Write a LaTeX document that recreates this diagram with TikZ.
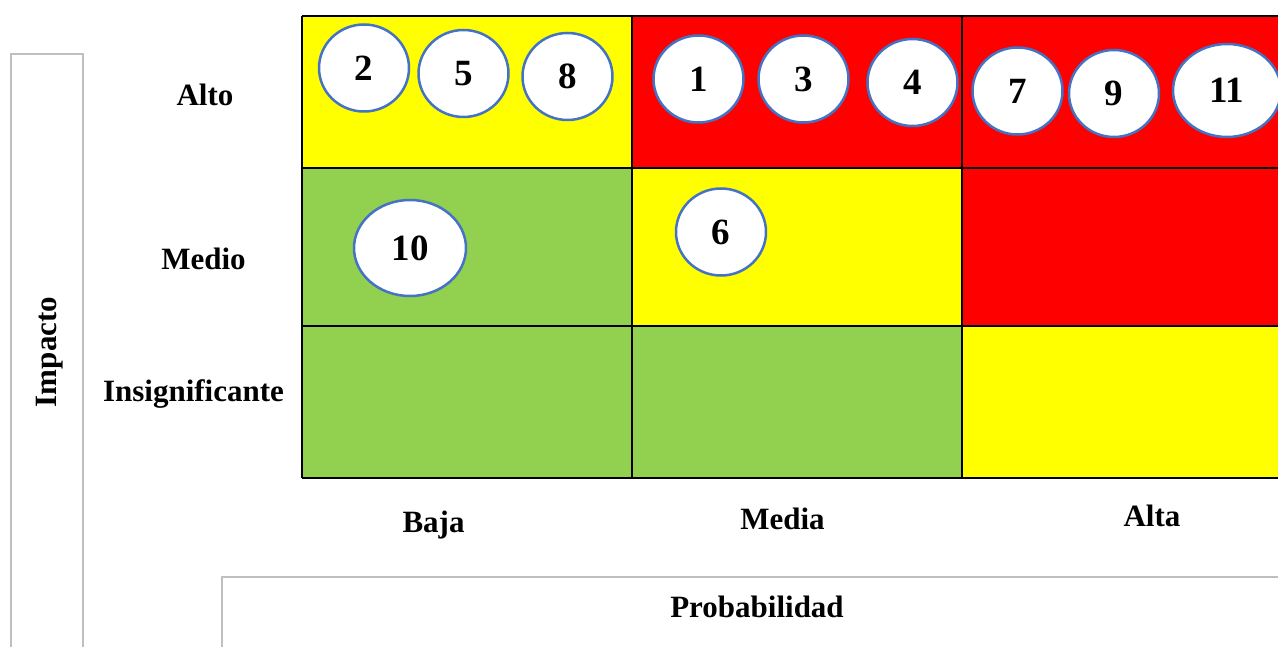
\documentclass[tikz,border=0pt]{standalone}
\usepackage{fontspec}
\setmainfont{Liberation Serif}
\usetikzlibrary{shapes.geometric}

\definecolor{riskred}{HTML}{FF0000}
\definecolor{riskyellow}{HTML}{FFFF00}
\definecolor{riskgreen}{HTML}{92D050}
\definecolor{bubbleblue}{HTML}{4472C4}
\definecolor{framegray}{HTML}{BFBFBF}

\begin{document}
\begin{tikzpicture}[x=1pt,y=-1pt,
    lbl/.style={font=\fontsize{31}{31}\selectfont\bfseries, inner sep=0pt},
    bubble/.style={ellipse, draw=bubbleblue, line width=2.5pt, fill=white,
        inner sep=0pt, minimum width=90pt, minimum height=87pt,
        font=\fontsize{37}{37}\selectfont\bfseries},
    gridline/.style={line width=2.5pt}]

    % column and row borders of the matrix
    \def\xa{302}
    \def\xb{632}
    \def\xc{962}
    \def\xd{1295}
    \def\ya{16}
    \def\yb{168}
    \def\yc{326}
    \def\yd{478}

    \useasboundingbox (0,0) rectangle (1278,647);

% --------------------
% Cells
% --------------------
\fill[riskyellow] (\xa,\ya) rectangle (\xb,\yb);
\fill[riskred]    (\xb,\ya) rectangle (\xc,\yb);
\fill[riskred]    (\xc,\ya) rectangle (\xd,\yb);

\fill[riskgreen]  (\xa,\yb) rectangle (\xb,\yc);
\fill[riskyellow] (\xb,\yb) rectangle (\xc,\yc);
\fill[riskred]    (\xc,\yb) rectangle (\xd,\yc);

\fill[riskgreen]  (\xa,\yc) rectangle (\xb,\yd);
\fill[riskgreen]  (\xb,\yc) rectangle (\xc,\yd);
\fill[riskyellow] (\xc,\yc) rectangle (\xd,\yd);

% --------------------
% Grid lines
% --------------------
\foreach \y in {\ya,\yb,\yc,\yd} {
    \draw[gridline] (\xa,\y) -- (\xd,\y);
}
\foreach \x in {\xa,\xb,\xc} {
    \draw[gridline] (\x,\ya) -- (\x,\yd);
}

% --------------------
% Risk bubbles
% --------------------
\foreach \n/\px/\py in {2/364/68, 5/463.5/73.5, 8/567.5/76.5,
                        1/698.5/79, 3/803.5/79, 4/912.5/82.5,
                        7/1017.5/91, 9/1114/93.5, 6/721/232} {
    \node[bubble] (r\n) at (\px,\py) {\n};
}
\node[bubble, minimum width=108pt, minimum height=93pt] (r11) at (1227,90.5) {11};
\node[bubble, minimum width=112pt, minimum height=96pt] (r10) at (410,248) {10};

% --------------------
% Impact levels
% --------------------
\node[lbl, anchor=base] (alto)  at (205,106)   {Alto};
\node[lbl, anchor=base] (medio) at (203.5,270) {Medio};
\node[lbl, anchor=base] (insig) at (193.5,401) {Insignificante};

% --------------------
% Probability levels
% --------------------
\node[lbl, anchor=base] (baja)  at (433.5,532) {Baja};
\node[lbl, anchor=base] (media) at (782.5,529) {Media};
\node[lbl, anchor=base] (alta)  at (1152,526)  {Alta};

% --------------------
% Axis titles in open frames
% --------------------
\draw[framegray, line width=1.5pt] (11,660) -- (11,54) -- (83,54) -- (83,660);
\node[lbl, rotate=90] (impacto) at (50,352) {Impacto};

\draw[framegray, line width=1.5pt] (222,660) -- (222,577) -- (1295,577);
\node[lbl, anchor=base] (prob) at (757,617) {Probabilidad};

\end{tikzpicture}
\end{document}
